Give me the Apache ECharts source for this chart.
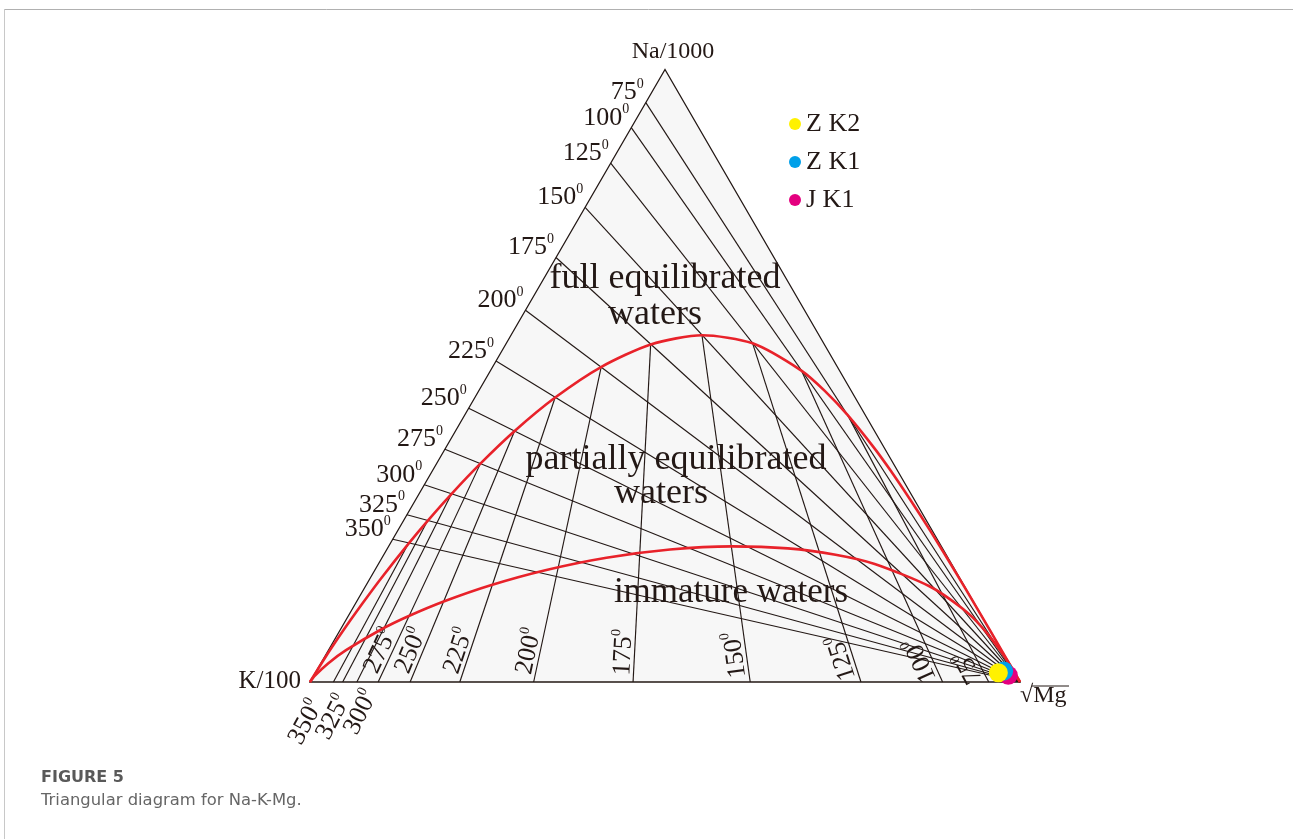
<!DOCTYPE html>
<html>
<head>
<meta charset="utf-8">
<title>Triangular diagram for Na-K-Mg</title>
<script src="https://cdn.jsdelivr.net/npm/echarts@6/dist/echarts.min.js"></script>
<style>
  html, body { margin: 0; padding: 0; background: #ffffff; }
  #chart { width: 1293px; height: 839px; }
</style>
</head>
<body>
<div id="chart"></div>
<script>
// Isotherm temperatures (°C) shared by both geothermometer line sets
const temps = [75, 100, 125, 150, 175, 200, 225, 250, 275, 300, 325, 350];

// Na share (Na/1000 over Na/1000 + K/100) where each K–Na isotherm meets the Na–K side
const naOnNaKSide = [0.946, 0.905, 0.847, 0.775, 0.693, 0.607, 0.524, 0.447, 0.380, 0.322, 0.273, 0.233];

// K share (K/100 over K/100 + √Mg) where each K–Mg isotherm meets the K–Mg base
const kOnKMgSide = [0.044, 0.109, 0.224, 0.380, 0.545, 0.685, 0.789, 0.859, 0.904, 0.934, 0.954, 0.967];

// Full equilibrium curve, ternary fractions [Na/1000, K/100, √Mg]
const fullEquilibrium = [
  [0, 1, 0], [0.0339, 0.9650, 0.0011], [0.0648, 0.9321, 0.0031], [0.0999, 0.8937, 0.0064],
  [0.1282, 0.8621, 0.0097], [0.1687, 0.8159, 0.0154], [0.2264, 0.7477, 0.0259],
  [0.2636, 0.7022, 0.0342], [0.3069, 0.6474, 0.0457], [0.3561, 0.5823, 0.0616],
  [0.4098, 0.5069, 0.0833], [0.4644, 0.4225, 0.1131], [0.5142, 0.3330, 0.1528],
  [0.5511, 0.2446, 0.2043], [0.5661, 0.1647, 0.2692], [0.5530, 0.1001, 0.3469],
  [0.5085, 0.0537, 0.4378], [0.4754, 0.0373, 0.4873], [0.4361, 0.0249, 0.5390],
  [0.3827, 0.0144, 0.6029], [0.3444, 0.0096, 0.6460], [0.2951, 0.0056, 0.6993],
  [0.2459, 0.0029, 0.7512], [0.1987, 0.0015, 0.7998], [0.1552, 0.0007, 0.8441],
  [0.0842, 0.0001, 0.9157], [0.0379, 0.0000, 0.9621], [0, 0, 1]
];

// Boundary of immature waters, ternary fractions [Na/1000, K/100, √Mg]
const immatureBoundary = [
  [0, 1, 0], [0.0099, 0.9884, 0.0017], [0.0303, 0.9594, 0.0103], [0.0519, 0.9233, 0.0248],
  [0.0857, 0.8570, 0.0573], [0.1077, 0.8070, 0.0853], [0.1322, 0.7438, 0.1240],
  [0.1580, 0.6665, 0.1755], [0.1825, 0.5773, 0.2402], [0.2029, 0.4811, 0.3161],
  [0.2163, 0.3847, 0.3990], [0.2214, 0.2952, 0.4834], [0.2181, 0.2180, 0.5639],
  [0.2078, 0.1559, 0.6363], [0.1927, 0.1083, 0.6990], [0.1563, 0.0494, 0.7943],
  [0.1203, 0.0214, 0.8583], [0.0901, 0.0090, 0.9009], [0.0483, 0.0015, 0.9502],
  [0.0252, 0.0002, 0.9746], [0, 0, 1]
];

// Water samples, ternary fractions in percent
const sampleNames = ['Z K2', 'Z K1', 'J K1'];
const sampleNa = [1.5, 1.8, 1.1];
const sampleK = [2.3, 1.4, 1.1];
const sampleMg = [96.2, 96.8, 97.8];
const sampleColors = ['#fff100', '#00a0e9', '#e4007f'];

const INK = '#231815';
const RED = '#e8222a';
const SERIF = '"Liberation Serif", "Times New Roman", serif';

// ternary [Na, K, Mg] -> plane coordinates (K at 0,0; Mg at 1,0; Na at 0.5,1)
function toXY(t) {
  const sum = t[0] + t[1] + t[2];
  const a = t[0] / sum, c = t[2] / sum;
  return [c + a / 2, a];
}

const degRich = {
  n: { fontSize: 26, fontFamily: SERIF, color: INK, verticalAlign: 'bottom', lineHeight: 28 },
  s: { fontSize: 14, fontFamily: SERIF, color: INK, verticalAlign: 'top', lineHeight: 14 }
};
function degText(t) { return '{n|' + t + '}{s|0}'; }

const chart = echarts.init(document.getElementById('chart'), null, { renderer: 'canvas' });

const series = [];

// triangle body
series.push({
  type: 'custom',
  silent: true,
  clip: false,
  data: [[0, 0]],
  z: 1,
  renderItem: function (params, api) {
    return {
      type: 'polygon',
      shape: { points: [api.coord([0, 0]), api.coord([1, 0]), api.coord([0.5, 1])] },
      style: { fill: '#f7f7f7', stroke: INK, lineWidth: 1.3 }
    };
  }
});

// K–Na isotherms: from the √Mg corner to the Na–K side
series.push({
  type: 'custom',
  silent: true,
  clip: false,
  z: 2,
  data: temps.map(function (t, i) { return [t, naOnNaKSide[i]]; }),
  renderItem: function (params, api) {
    const s = api.value(1);
    const p1 = api.coord([s / 2, s]);
    const p2 = api.coord([1, 0]);
    return {
      type: 'group',
      children: [
        { type: 'line', shape: { x1: p1[0], y1: p1[1], x2: p2[0], y2: p2[1] },
          style: { stroke: INK, lineWidth: 1.15 } },
        { type: 'text', x: p1[0] - 2, y: p1[1] - 11,
          style: { text: degText(api.value(0)), rich: degRich, align: 'right',
                   verticalAlign: 'middle', fill: INK } }
      ]
    };
  }
});

// K–Mg isotherms: from the K–Mg base up to the full equilibrium curve
series.push({
  type: 'custom',
  silent: true,
  clip: false,
  z: 2,
  data: temps.map(function (t, i) { return [t, kOnKMgSide[i], naOnNaKSide[i]]; }),
  renderItem: function (params, api) {
    const t = api.value(0);
    const fK = api.value(1);
    const s = api.value(2);
    const base = api.coord(toXY([0, fK, 1 - fK]));
    const end = api.coord(toXY([s / (1 - s), 1, (1 - fK) / fK]));
    const theta = Math.atan2(base[1] - end[1], end[0] - base[0]);
    const d = [Math.cos(theta), -Math.sin(theta)];
    const u = [-Math.sin(theta), -Math.cos(theta)];
    let label;
    if (t >= 300) {
      // hottest lines crowd the K corner: their labels sit side by side below it
      const corner = api.coord([0, 0]);
      const k = (350 - t) / 25;
      label = { type: 'text', x: corner[0] - 5 + 27.5 * k, y: corner[1] + 40 - 5 * k,
                rotation: theta,
                style: { text: degText(t), rich: degRich, align: 'center',
                         verticalAlign: 'middle', fill: INK } };
    } else {
      label = { type: 'text', x: base[0] + d[0] * 6 + u[0] * 12, y: base[1] + d[1] * 6 + u[1] * 12,
                rotation: theta,
                style: { text: degText(t), rich: degRich, align: 'left',
                         verticalAlign: 'middle', fill: INK } };
    }
    return {
      type: 'group',
      children: [
        { type: 'line', shape: { x1: base[0], y1: base[1], x2: end[0], y2: end[1] },
          style: { stroke: INK, lineWidth: 1.15 } },
        label
      ]
    };
  }
});

// equilibrium boundaries
series.push({
  type: 'line', name: 'full equilibrium', data: fullEquilibrium.map(toXY),
  showSymbol: false, smooth: 0.25, silent: true, z: 3,
  lineStyle: { color: RED, width: 2.6 }
});
series.push({
  type: 'line', name: 'immature', data: immatureBoundary.map(toXY),
  showSymbol: false, smooth: 0.25, silent: true, z: 3,
  lineStyle: { color: RED, width: 2.6 }
});

// samples, drawn so that Z K2 sits on top
for (let i = sampleNames.length - 1; i >= 0; i--) {
  series.push({
    type: 'scatter',
    name: sampleNames[i],
    z: 4,
    symbolSize: 19,
    itemStyle: { color: sampleColors[i], opacity: 1 },
    data: [toXY([sampleNa[i], sampleK[i], sampleMg[i]])]
  });
}

const textStyle = function (text, x, y, size, align) {
  return {
    type: 'text', x: x, y: y, silent: true, z: 100,
    style: { text: text, font: size + 'px ' + SERIF, fill: INK,
             align: align || 'center', verticalAlign: 'middle' }
  };
};

chart.setOption({
  animation: false,
  backgroundColor: '#ffffff',
  grid: { left: 310, top: 69.5, width: 710, height: 612.5, show: false },
  xAxis: { type: 'value', min: 0, max: 1, show: false },
  yAxis: { type: 'value', min: 0, max: 1, show: false },
  tooltip: { show: false },
  legend: {
    data: sampleNames,
    orient: 'vertical',
    left: 789, top: 111,
    padding: 0,
    icon: 'circle',
    itemWidth: 12, itemHeight: 12, itemGap: 12,
    selectedMode: false,
    textStyle: { fontFamily: SERIF, fontSize: 26, color: INK }
  },
  series: series,
  graphic: [
    // frame
    { type: 'line', silent: true, shape: { x1: 4, y1: 9.5, x2: 1293, y2: 9.5 },
      style: { stroke: '#b0b0b0', lineWidth: 1 } },
    { type: 'line', silent: true, shape: { x1: 4.5, y1: 9, x2: 4.5, y2: 839 },
      style: { stroke: '#c8c8c8', lineWidth: 1 } },
    // corner names
    textStyle('Na/1000', 673, 52, 24),
    textStyle('K/100', 301, 681, 25, 'right'),
    textStyle('\u221AMg', 1020, 696, 24, 'left'),
    { type: 'line', silent: true, shape: { x1: 1032, y1: 686, x2: 1069, y2: 686 },
      style: { stroke: INK, lineWidth: 1 } },
    // fields
    textStyle('full equilibrated', 665, 279, 36),
    textStyle('waters', 655, 315, 36),
    textStyle('partially equilibrated', 676, 460, 36),
    textStyle('waters', 661, 494, 36),
    textStyle('immature waters', 731, 593, 35),
    // caption
    { type: 'text', x: 41, y: 778, silent: true,
      style: { text: 'FIGURE 5', font: 'bold 16px "DejaVu Sans", sans-serif', fill: '#595959',
               align: 'left', verticalAlign: 'middle' } },
    { type: 'text', x: 41, y: 801, silent: true,
      style: { text: 'Triangular diagram for Na-K-Mg.', font: '16.4px "DejaVu Sans", sans-serif',
               fill: '#666666', align: 'left', verticalAlign: 'middle' } }
  ]
});
</script>
</body>
</html>
